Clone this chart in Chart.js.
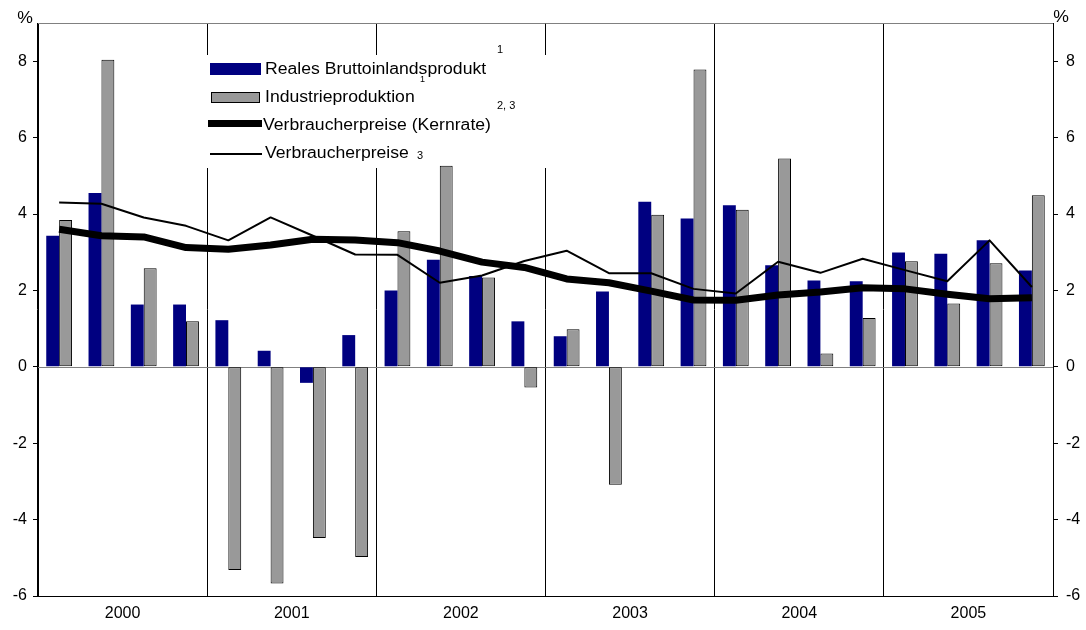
<!DOCTYPE html>
<html><head><meta charset="utf-8">
<script src="https://cdn.jsdelivr.net/npm/chart.js@4.4.1/dist/chart.umd.min.js"></script>
<style>html,body{margin:0;padding:0;background:#fff;}#wrap{width:1086px;height:630px;}</style>
</head><body><div id="wrap"><canvas id="c" width="1086" height="630"></canvas></div>
<script>
const quarters = ['2000 Q1','2000 Q2','2000 Q3','2000 Q4','2001 Q1','2001 Q2','2001 Q3','2001 Q4',
  '2002 Q1','2002 Q2','2002 Q3','2002 Q4','2003 Q1','2003 Q2','2003 Q3','2003 Q4',
  '2004 Q1','2004 Q2','2004 Q3','2004 Q4','2005 Q1','2005 Q2','2005 Q3','2005 Q4'];
const years = ['2000','2001','2002','2003','2004','2005'];
const bip = [3.43,4.55,1.63,1.63, 1.22,0.42,-0.42,0.83, 2.00,2.80,2.38,1.19, 0.80,1.97,4.32,3.88, 4.23,2.66,2.26,2.24, 2.99,2.96,3.31,2.52];
const industrie = [3.84,8.04,2.58,1.19, -5.32,-5.67,-4.48,-4.98, 3.55,5.26,2.34,-0.54, 0.98,-3.09,3.98,7.78, 4.11,5.45,0.35,1.28, 2.76,1.66,2.71,4.49];
const kernrate = [3.60,3.43,3.40,3.12, 3.08,3.19,3.34,3.32, 3.25,3.03,2.74,2.60, 2.30,2.20,1.98,1.75, 1.74,1.88,1.96,2.07, 2.04,1.90,1.78,1.81];
const vpi = [4.30,4.27,3.91,3.69, 3.31,3.91,3.43,2.94, 2.93,2.20,2.39,2.77, 3.04,2.45,2.45,2.04, 1.92,2.75,2.46,2.83, 2.53,2.24,3.31,2.09];
const yTicks = [-6,-4,-2,0,2,4,6,8];
const legendLabels = ['Reales Bruttoinlandsprodukt','Industrieproduktion','Verbraucherpreise (Kernrate)','Verbraucherpreise'];

const FONT = "'Liberation Sans', Arial, Helvetica, sans-serif";
const NAVY = '#000080', GREY = '#999999';

function txt(ctx, s, x, y, size, align, sx){
  ctx.save();
  ctx.font = size + 'px ' + FONT;
  ctx.fillStyle = '#000';
  ctx.textAlign = align || 'left';
  ctx.textBaseline = 'middle';
  ctx.translate(x, y);
  ctx.scale(sx || 1, 1);
  ctx.fillText(s, 0, 0);
  ctx.restore();
}

const decor = {
  id: 'decor',
  beforeDatasetsDraw(chart){
    const {ctx, chartArea: a, scales: {y}} = chart;
    ctx.save();
    ctx.fillStyle = '#fff';
    ctx.fillRect(200, 55, 352, 113);
    ctx.strokeStyle = '#808080'; ctx.lineWidth = 1;
    ctx.beginPath(); ctx.moveTo(a.left, a.top + 0.5); ctx.lineTo(a.right, a.top + 0.5); ctx.stroke();
    const y0 = Math.round(y.getPixelForValue(0)) + 0.5;
    ctx.beginPath(); ctx.moveTo(a.left, y0); ctx.lineTo(a.right, y0); ctx.stroke();
    ctx.restore();
  },
  afterDraw(chart){
    const ctx = chart.ctx;
    ctx.save();
    ctx.fillStyle = NAVY; ctx.fillRect(210, 63, 51, 12);
    ctx.fillStyle = GREY; ctx.fillRect(211, 92, 49, 11);
    ctx.strokeStyle = '#000'; ctx.lineWidth = 1; ctx.strokeRect(211.5, 92.5, 48, 10);
    ctx.fillStyle = '#000'; ctx.fillRect(208, 120, 54, 7);
    ctx.fillRect(210, 153, 52, 2);
    ctx.restore();
    const sx = 1.1;
    txt(ctx, legendLabels[0], 265, 70, 16, 'left', sx);
    txt(ctx, legendLabels[1], 265, 98, 16, 'left', sx);
    txt(ctx, legendLabels[2], 263, 126, 16, 'left', sx);
    txt(ctx, legendLabels[3], 265, 154, 16, 'left', sx);
    txt(ctx, '1', 497, 50, 11, 'left', 1);
    txt(ctx, '1', 420, 80, 9, 'left', 1);
    txt(ctx, '2, 3', 497, 106, 11, 'left', 1);
    txt(ctx, '3', 417, 156, 11, 'left', 1);
    txt(ctx, '%', 25, 19, 16, 'center', 1.1);
    txt(ctx, '%', 1061, 18, 16, 'center', 1.1);
  }
};

const tickFont = {family: FONT, size: 16};
function yAxis(pos, w, pad){
  return {
    type: 'linear', position: pos, min: -6, max: 9,
    afterBuildTicks: s => { s.ticks = yTicks.map(v => ({value: v})); },
    afterFit: s => { s.width = w; },
    grid: {drawOnChartArea: false, drawTicks: true, tickLength: 5, tickColor: '#000', color: '#000'},
    border: {display: true, color: '#000', width: 1},
    ticks: {font: tickFont, color: '#000', padding: pad}
  };
}

new Chart(document.getElementById('c'), {
  data: {
    labels: quarters,
    datasets: [
      {type: 'line', label: legendLabels[3], data: vpi, borderColor: '#000', borderWidth: 2, pointRadius: 0, tension: 0, order: 0, xAxisID: 'x', yAxisID: 'y', borderJoinStyle: 'round'},
      {type: 'line', label: legendLabels[2], data: kernrate, borderColor: '#000', borderWidth: 7, pointRadius: 0, tension: 0, order: 1, xAxisID: 'x', yAxisID: 'y', borderJoinStyle: 'round', borderCapStyle: 'butt'},
      {type: 'bar', label: legendLabels[0], data: bip, backgroundColor: NAVY, borderWidth: 0, order: 2, xAxisID: 'x', yAxisID: 'y', categoryPercentage: 0.61, barPercentage: 1.0},
      {type: 'bar', label: legendLabels[1], data: industrie, backgroundColor: GREY, borderColor: '#000', borderWidth: 1, borderSkipped: false, order: 3, xAxisID: 'x', yAxisID: 'y', categoryPercentage: 0.61, barPercentage: 1.0}
    ]
  },
  options: {
    responsive: false, animation: false, devicePixelRatio: 1, events: [],
    layout: {padding: {top: 23, left: 0, right: 0, bottom: 0}},
    plugins: {legend: {display: false}, tooltip: {enabled: false}, title: {display: false}},
    scales: {
      x: {type: 'category', display: false, offset: true},
      x2: {type: 'category', labels: years, position: 'bottom', offset: true,
        afterFit: s => { s.height = 34; },
        grid: {offset: true, color: '#000', lineWidth: 1, drawTicks: false, drawOnChartArea: true},
        border: {display: true, color: '#000', width: 1},
        ticks: {font: tickFont, color: '#000', padding: 8, maxRotation: 0}
      },
      y: yAxis('left', 38, 6),
      y2: yAxis('right', 33, 8)
    }
  },
  plugins: [decor]
});
</script>
</body></html>
